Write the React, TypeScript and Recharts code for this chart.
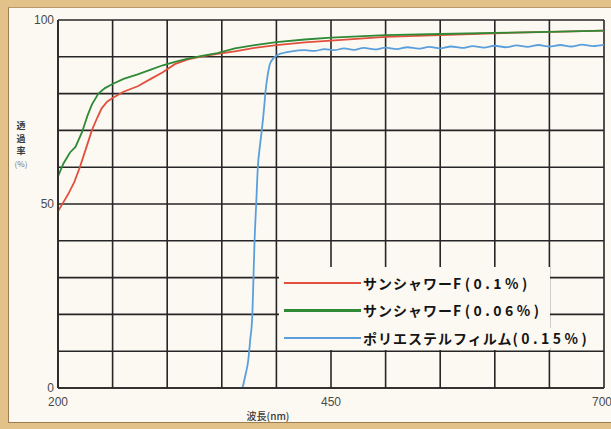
import React from "react";
import { LineChart, Line, XAxis, YAxis, CartesianGrid } from "recharts";

// axis ticks (grid every 50nm / 10%), only some are labelled
const xTicks = [200, 250, 300, 350, 400, 450, 500, 550, 600, 650, 700];
const xLabels = [200, 450, 700];
const yTicks = [0, 10, 20, 30, 40, 50, 60, 70, 80, 90, 100];
const yLabels = [0, 50, 100];

// サンシャワーF(0.1%)
const redNm = [200, 205, 209, 215, 220, 225, 231, 236, 240, 245, 250, 260, 273, 285, 296, 307, 319, 333, 346, 362, 380, 400, 426, 450, 480, 500, 550, 600, 650, 700];
const redT = [48, 50.5, 52.5, 56, 60, 64.5, 70, 73.5, 76, 77.8, 78.8, 80.5, 82, 84, 85.8, 88, 89.3, 90.2, 90.8, 91.5, 92.4, 93.2, 93.9, 94.4, 95, 95.4, 95.9, 96.4, 96.8, 97.1];

// サンシャワーF(0.06%)
const greenNm = [200, 205, 211, 216, 222, 227, 231, 237, 243, 250, 260, 273, 285, 296, 308, 319, 333, 346, 362, 380, 400, 426, 450, 480, 500, 550, 600, 650, 700];
const greenT = [57.5, 61, 64, 65.5, 69.5, 74, 77, 80, 81.5, 82.6, 84, 85.2, 86.5, 87.7, 88.7, 89.5, 90.3, 91, 92.3, 93.2, 94, 94.7, 95.2, 95.6, 95.9, 96.2, 96.5, 96.8, 97.1];

// ポリエステルフィルム(0.15%)
const blueNm = [369, 372, 374, 376, 378, 379, 380, 381.5, 383, 385, 387, 389, 390, 392, 394, 397, 401, 407, 414, 426, 435, 444, 453, 462, 471, 480, 490, 500, 510, 520, 530, 540, 550, 560, 570, 580, 590, 600, 610, 620, 630, 640, 650, 660, 670, 680, 690, 700];
const blueT = [0, 4, 7, 13, 20, 30, 40, 50, 60, 66, 71, 77, 80.5, 85, 88, 89.5, 90.5, 91.1, 91.5, 91.8, 91.6, 92.1, 91.8, 92.3, 91.9, 92.4, 92, 92.5, 92.1, 92.6, 92.2, 92.7, 92.3, 92.8, 92.4, 92.9, 92.5, 93, 92.6, 93.1, 92.7, 93.2, 92.8, 93.2, 92.8, 93.3, 92.9, 93.3];

const seriesNames = ["サンシャワーF(0.1%)", "サンシャワーF(0.06%)", "ポリエステルフィルム(0.15%)"];
const seriesColors = ["#e2503d", "#2f8a36", "#5a9fdc"];

const toData = (nm: number[], t: number[]) => nm.map((x, i) => ({ nm: x, t: t[i] }));
const series = [toData(redNm, redT), toData(greenNm, greenT), toData(blueNm, blueT)];

const PAPER = "#fcf9f3";
const tickStyle = { fontSize: 12, fill: "#4a4a4a", fontFamily: "Liberation Sans, Arial, sans-serif" };

export default function App() {
  return (
    <div style={{ position: "absolute", left: 0, top: 0, width: 611, height: 429, background: "#e3c289", overflow: "hidden" }}>
      <div
        style={{
          position: "absolute", left: 8, top: 7, width: 603, height: 416, background: PAPER,
          borderLeft: "1px solid #9c7d52", borderTop: "1px solid #b8976a", borderBottom: "1px solid #9c7d52", boxSizing: "border-box",
        }}
      />
      <div style={{ position: "absolute", left: 0, top: 0 }}>
        <LineChart width={611} height={429} margin={{ top: 20, right: 7, bottom: 11, left: 18 }}>
          <CartesianGrid stroke="#262626" strokeWidth={1.6} />
          <XAxis
            dataKey="nm"
            type="number"
            domain={[200, 700]}
            ticks={xTicks}
            tickFormatter={(v) => (xLabels.includes(v) ? String(v) : "")}
            tickSize={0}
            tickMargin={9}
            height={30}
            axisLine={{ stroke: "#262626", strokeWidth: 1.6 }}
            tick={tickStyle}
            allowDuplicatedCategory={false}
          />
          <YAxis
            type="number"
            domain={[0, 100]}
            ticks={yTicks}
            tickFormatter={(v) => (yLabels.includes(v) ? String(v) : "")}
            tickSize={0}
            tickMargin={4}
            width={40}
            axisLine={{ stroke: "#262626", strokeWidth: 1.6 }}
            tick={tickStyle}
          />
          {series.map((d, i) => (
            <Line
              key={seriesNames[i]}
              data={d}
              dataKey="t"
              name={seriesNames[i]}
              type={i === 2 ? "monotone" : "linear"}
              stroke={seriesColors[i]}
              strokeWidth={1.8}
              dot={false}
              isAnimationActive={false}
            />
          ))}
        </LineChart>
      </div>

      {/* y axis title, stacked */}
      <div
        style={{
          position: "absolute", left: 13, top: 120, width: 16, textAlign: "center", color: "#3a3a3a",
          fontFamily: "Noto Sans CJK JP, sans-serif", fontWeight: 700, fontSize: 9, lineHeight: "12.5px",
        }}
      >
        <div>透</div>
        <div>過</div>
        <div>率</div>
        <div style={{ fontWeight: 400, fontSize: 8, color: "#777" }}>(%)</div>
      </div>

      {/* x axis title */}
      <div
        style={{
          position: "absolute", left: 238, top: 409, width: 60, textAlign: "center", color: "#3a3a3a",
          fontFamily: "Noto Sans CJK JP, sans-serif", fontWeight: 500, fontSize: 10, lineHeight: "14px",
        }}
      >
        波長(nm)
      </div>

      {/* legend */}
      <div style={{ position: "absolute", left: 279, top: 267, width: 271, height: 83, background: PAPER, paddingTop: 2, boxSizing: "border-box" }}>
        {seriesNames.map((name, i) => {
          const m = name.match(/^([^\x00-\x7f]+)(.*)$/);
          const kana = m ? m[1] : name;
          const rest = m ? m[2] : "";
          return (
            <div key={name} style={{ display: "flex", alignItems: "center", height: 27.5, whiteSpace: "nowrap" }}>
              <div style={{ marginLeft: 5, width: 77, height: 2.5, flexShrink: 0, background: seriesColors[i] }} />
              <span
                style={{
                  marginLeft: 2, flexShrink: 0, background: PAPER, color: "#151515", fontFamily: "Noto Sans CJK JP, sans-serif",
                  fontWeight: 700, fontSize: 14, lineHeight: "20px",
                }}
              >
                <span style={{ letterSpacing: 1 }}>{kana}</span>
                <span style={{ letterSpacing: 3.5 }}>{rest}</span>
              </span>
            </div>
          );
        })}
      </div>
    </div>
  );
}
